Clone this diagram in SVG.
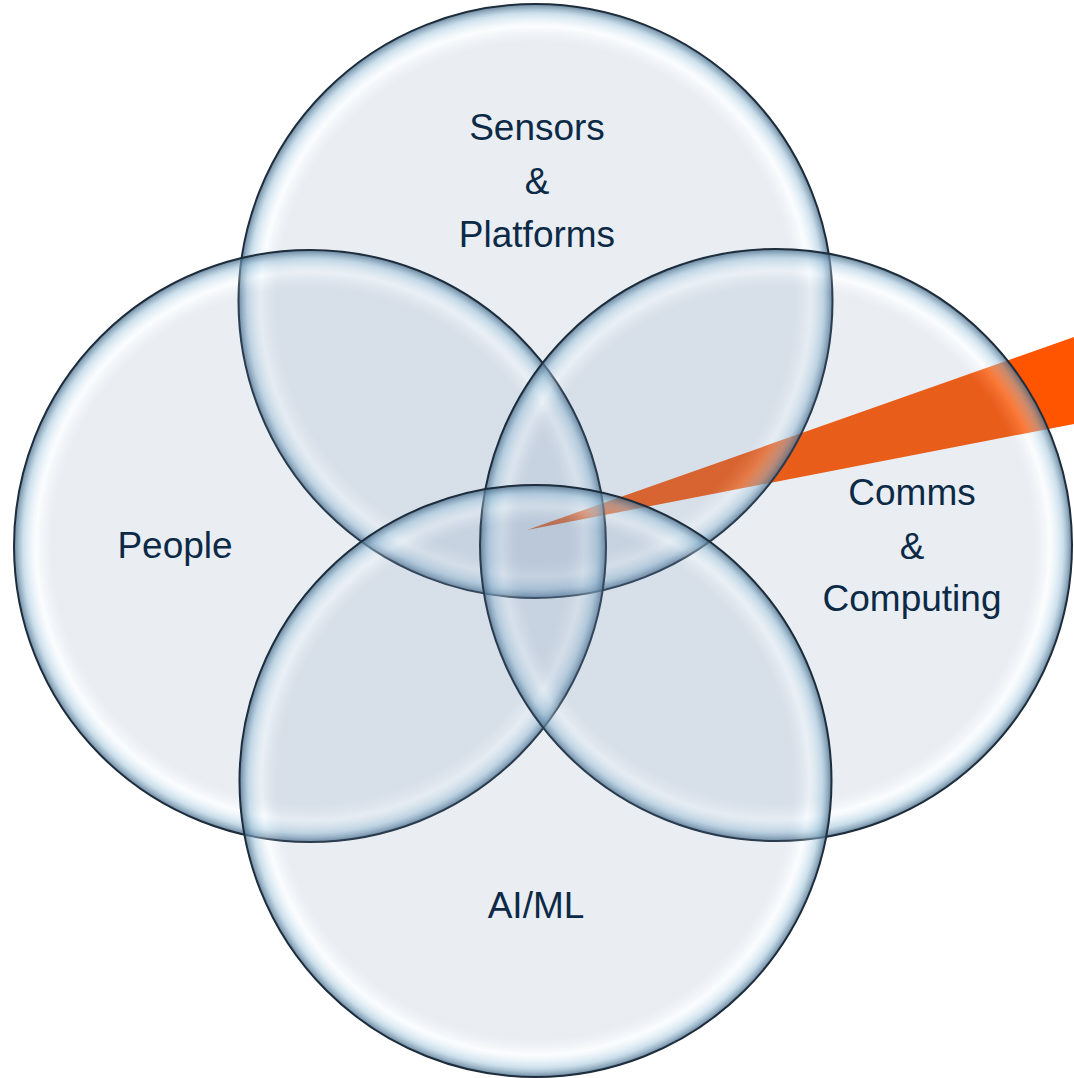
<svg xmlns="http://www.w3.org/2000/svg" width="1074" height="1078" viewBox="0 0 1074 1078">
  <defs>
    <!-- glassy bubble: faint blue body, soft inner glow, blue rim -->
    <radialGradient id="bubble" cx="0.5" cy="0.5" r="0.5">
      <stop offset="0" stop-color="rgb(110,140,175)" stop-opacity="0.15"/>
      <stop offset="0.87" stop-color="rgb(110,140,175)" stop-opacity="0.15"/>
      <stop offset="0.925" stop-color="rgb(235,245,252)" stop-opacity="0.22"/>
      <stop offset="0.97" stop-color="rgb(150,190,215)" stop-opacity="0.5"/>
      <stop offset="1" stop-color="rgb(70,105,135)" stop-opacity="0.8"/>
    </radialGradient>
  </defs>
  <style>
    .bubble { fill: url(#bubble); stroke: #1e2d3c; stroke-width: 2; }
    .label { font-family: "Liberation Sans", Arial, sans-serif; font-size: 37px; fill: #0c2a46; text-anchor: middle; }
  </style>

  <rect width="1074" height="1078" fill="#ffffff"/>

  <!-- pointer wedge from the shared centre out to the right edge -->
  <g id="connectors">
    <polygon points="527,530 1074,337 1074,424" fill="#ff5500"/>
  </g>

  <g id="sensors-platforms">
    <circle class="bubble" cx="535.5" cy="301" r="297"/>
  </g>
  <g id="people">
    <circle class="bubble" cx="310" cy="546" r="296"/>
  </g>
  <g id="comms-computing">
    <circle class="bubble" cx="776" cy="545" r="296"/>
  </g>
  <g id="ai-ml">
    <circle class="bubble" cx="535.5" cy="781" r="296"/>
  </g>

  <g id="labels">
    <text class="label" x="537" y="140">Sensors</text>
    <text class="label" x="537" y="194">&amp;</text>
    <text class="label" x="537" y="247">Platforms</text>
    <text class="label" x="175" y="558">People</text>
    <text class="label" x="912" y="505">Comms</text>
    <text class="label" x="912" y="559">&amp;</text>
    <text class="label" x="912" y="611">Computing</text>
    <text class="label" x="536" y="918">AI/ML</text>
  </g>
</svg>
